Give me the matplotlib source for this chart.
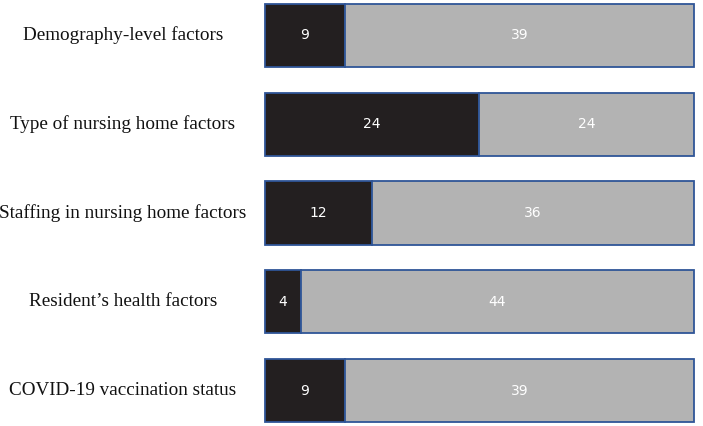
import matplotlib.pyplot as plt

# Factor groups and counts
categories = [
    "Demography-level factors",
    "Type of nursing home factors",
    "Staffing in nursing home factors",
    "Resident\u2019s health factors",
    "COVID-19 vaccination status",
]
dark_counts = [9, 24, 12, 4, 9]
grey_counts = [39, 24, 36, 44, 39]

fig = plt.figure(figsize=(7.03, 4.26), dpi=100)
ax = fig.add_axes([0.374, 0.007, 0.616, 0.986])

y = range(len(categories))
height = 0.71
edge = '#2f5597'

ax.barh(y, dark_counts, height, color='#231f20', edgecolor=edge, linewidth=1.3)
ax.barh(y, grey_counts, height, left=dark_counts, color='#b3b3b3',
        edgecolor=edge, linewidth=1.3)

for i in y:
    ax.text(dark_counts[i] / 2, i, str(dark_counts[i]), color='white',
            ha='center', va='center', fontsize=10, family='DejaVu Sans')
    ax.text(dark_counts[i] + grey_counts[i] / 2, i, str(grey_counts[i]),
            color='white', ha='center', va='center', fontsize=10,
            family='DejaVu Sans')
    # category label, centred in the left margin
    ax.text(-0.323, i, categories[i], transform=ax.get_yaxis_transform(),
            ha='center', va='center', fontsize=13.8, family='Liberation Serif',
            color='#111111')

ax.set_xlim(-0.2, 48.2)
ax.set_ylim(len(categories) - 1 + height / 2 + 0.01, -height / 2 - 0.01)
ax.axis('off')

plt.savefig('out.png')
plt.close(fig)
